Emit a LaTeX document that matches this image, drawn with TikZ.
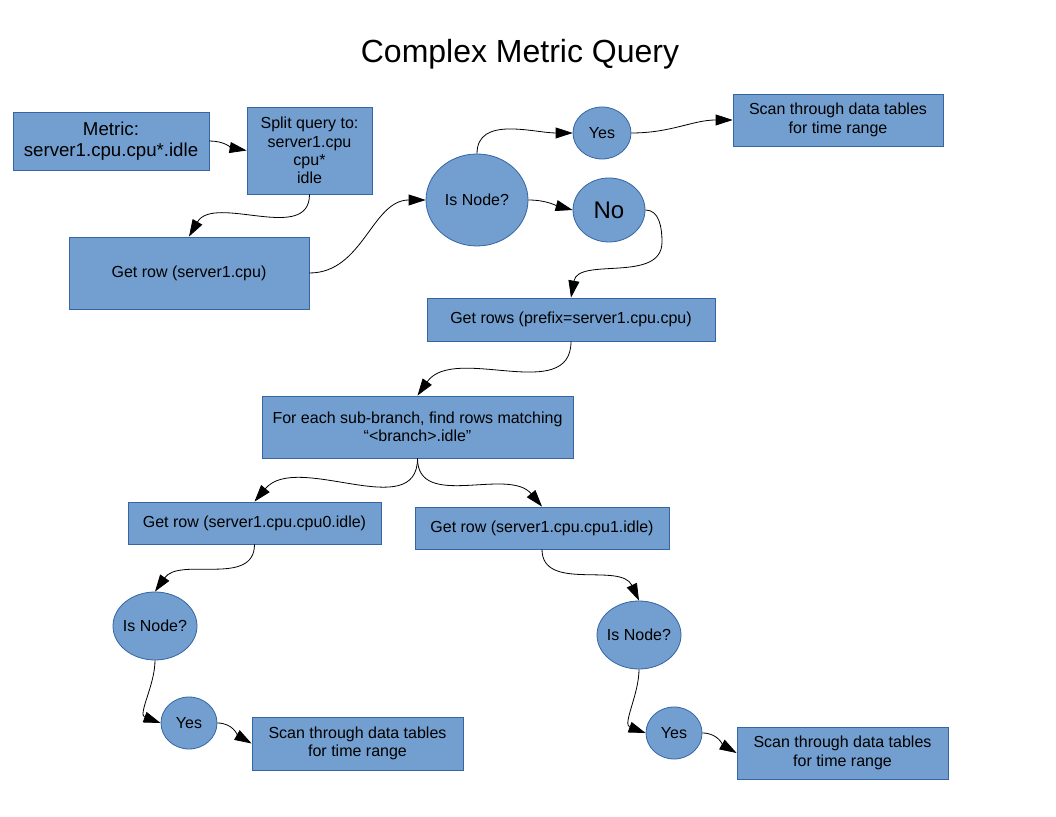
\documentclass[tikz,border=0pt]{standalone}
\usepackage{fontspec}
\setmainfont{Liberation Sans}
\usetikzlibrary{shapes.geometric,arrows.meta}
\definecolor{boxfill}{HTML}{729FCF}
\definecolor{boxline}{HTML}{3465A4}
\newcommand{\zb}[1]{\makebox[0pt]{#1}}
\tikzset{
  box/.style={draw=boxline, fill=boxfill, line width=0.8pt, rectangle, inner sep=0pt, align=center, font=\fontsize{16}{18.4}\selectfont},
  oval/.style={draw=boxline, fill=boxfill, line width=0.8pt, ellipse, inner sep=0pt, align=center, font=\fontsize{16}{18.4}\selectfont},
  conn/.style={draw=black, line width=0.8pt, -{Triangle[length=17pt,width=11pt]}},
}
\begin{document}
\begin{tikzpicture}[x=1pt,y=1pt]
\useasboundingbox (0,0) rectangle (1056,816);
\fill[white] (0,0) rectangle (1056,816);
\node[font=\fontsize{32}{36}\selectfont] (title) at (520,762) {Complex Metric Query};
\node[box, minimum width=196pt, minimum height=58pt, font=\fontsize{18.67}{21.5}\selectfont] (metric) at (111,675) {Metric:\\server1.cpu.cpu*.idle};
\node[box, minimum width=125pt, minimum height=87pt] (split) at (309.5,665.5) {Split query to:\\server1.cpu\\cpu*\\idle};
\node[box, minimum width=240pt, minimum height=72pt] (getrow) at (189,543) {Get row (server1.cpu)};
\node[oval, minimum width=102pt, minimum height=92pt] (isnode) at (477,616) {\zb{Is Node?}};
\node[oval, minimum width=58pt, minimum height=52pt] (yes1) at (602,683) {\zb{Yes}};
\node[box, minimum width=210pt, minimum height=52pt] (scan1) at (838,696) {Scan through data tables\\for time range};
\node[oval, minimum width=72pt, minimum height=64pt, font=\fontsize{24}{27}\selectfont] (no) at (609,606) {\zb{No}};
\node[box, minimum width=288pt, minimum height=43pt] (getrows) at (571,496.5) {Get rows (prefix=server1.cpu.cpu)};
\node[box, minimum width=311pt, minimum height=62pt] (foreach) at (417.5,389) {For each sub-branch, find rows matching\\“<branch>.idle”};
\node[box, minimum width=253pt, minimum height=42pt] (cpu0) at (254.5,293) {Get row (server1.cpu.cpu0.idle)};
\node[box, minimum width=254pt, minimum height=42pt] (cpu1) at (542,288) {Get row (server1.cpu.cpu1.idle)};
\node[oval, minimum width=84pt, minimum height=68pt] (isnodeL) at (155,190) {\zb{Is Node?}};
\node[oval, minimum width=84pt, minimum height=68pt] (isnodeR) at (639,181) {\zb{Is Node?}};
\node[oval, minimum width=56pt, minimum height=52pt] (yesL) at (189,93) {\zb{Yes}};
\node[oval, minimum width=56pt, minimum height=52pt] (yesR) at (674,83) {\zb{Yes}};
\node[box, minimum width=211pt, minimum height=53pt] (scanL) at (357.5,72.5) {Scan through data tables\\for time range};
\node[box, minimum width=211pt, minimum height=52pt] (scanR) at (842.5,63) {Scan through data tables\\for time range};
\coordinate (nobend) at (662,574);
\draw[conn] (metric.east) to[out=0,in=170] (split.west);
\draw[conn] (split.south) to[out=270,in=60] (getrow.north);
\draw[conn] (getrow.east) to[out=0,in=180] (isnode.west);
\draw[conn] (isnode.north) to[out=90,in=180] (yes1.west);
\draw[conn] (yes1.east) to[out=0,in=180] (scan1.west);
\draw[conn] (isnode.east) to[out=0,in=165] (no.west);
\draw[conn] (no.east) to[out=0,in=90] (nobend) to[out=270,in=80] (getrows.north);
\draw[conn] (getrows.south) to[out=270,in=55] (foreach.north);
\draw[conn] (foreach.south) to[out=270,in=50] (cpu0.north);
\draw[conn] (foreach.south) to[out=270,in=130] (cpu1.north);
\draw[conn] (cpu0.south) to[out=270,in=55] (isnodeL.north);
\draw[conn] (cpu1.south) to[out=270,in=115] (isnodeR.north);
\draw[conn] (isnodeL.south) to[out=270,in=160] (yesL.west);
\draw[conn] (yesL.east) to[out=0,in=150] (scanL.west);
\draw[conn] (isnodeR.south) to[out=270,in=160] (yesR.west);
\draw[conn] (yesR.east) to[out=0,in=150] (scanR.west);
\end{tikzpicture}
\end{document}
